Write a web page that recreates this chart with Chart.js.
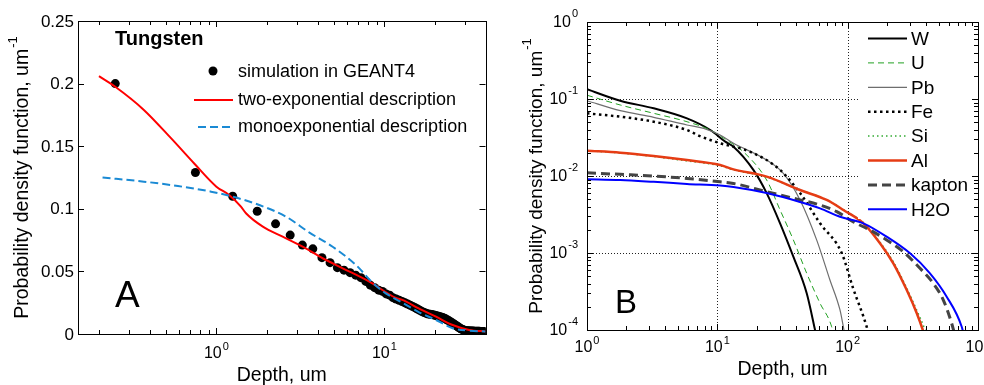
<!DOCTYPE html>
<html>
<head>
<meta charset="utf-8">
<script src="https://cdn.jsdelivr.net/npm/chart.js@4.4.1/dist/chart.umd.min.js"></script>
<style>
  html, body { margin: 0; padding: 0; background: #fff; overflow: hidden; }
  #wrap { position: relative; width: 984px; height: 385px; }
  canvas { position: absolute; top: 0; }
  #chartA { left: 0; }
  #chartB { left: 490px; }
</style>
</head>
<body>
<div id="wrap">
  <canvas id="chartA" width="490" height="385"></canvas>
  <canvas id="chartB" width="494" height="385"></canvas>
</div>
<script>
// ---------- Panel A: Tungsten ----------
const simDepth = [0.25, 0.75, 1.25, 1.75, 2.25, 2.75, 3.25, 3.75, 4.25, 4.75,
  5.25, 5.75, 6.25, 6.75, 7.25, 7.75, 8.25, 8.75, 9.25, 9.75,
  10.25, 10.75, 11.25, 11.75, 12.25, 12.75, 13.25, 13.75, 14.25, 14.75,
  15.25, 15.75, 16.25, 16.75, 17.25, 17.75, 18.25, 18.75, 19.25, 19.75,
  20.25, 20.75, 21.25, 21.75, 22.25, 22.75, 23.25, 23.75, 24.25, 24.75,
  25.25, 25.75, 26.25, 26.75, 27.25, 27.75, 28.25, 28.75, 29.25, 29.75,
  30.25, 30.75, 31.25, 31.75, 32.25, 32.75, 33.25, 33.75, 34.25, 34.75,
  35.25, 35.75, 36.25, 36.75, 37.25, 37.75, 38.25, 38.75, 39.25, 39.75];
const simPdf = [0.200, 0.129, 0.110, 0.098, 0.088, 0.079, 0.071, 0.068, 0.061, 0.057,
  0.053, 0.051, 0.049, 0.047, 0.045, 0.042, 0.039, 0.037, 0.035, 0.034,
  0.032, 0.031, 0.029, 0.028, 0.027, 0.026, 0.025, 0.024, 0.023, 0.022,
  0.021, 0.020, 0.019, 0.018, 0.0172, 0.0166, 0.0160, 0.0157, 0.0155, 0.0151,
  0.0148, 0.0144, 0.0140, 0.0136, 0.0132, 0.0126, 0.0120, 0.0112, 0.0105, 0.0098,
  0.0090, 0.0082, 0.0075, 0.0068, 0.0060, 0.0052, 0.0045, 0.0040, 0.0035, 0.0031,
  0.0028, 0.0026, 0.0025, 0.0025, 0.0024, 0.0024, 0.0023, 0.0023, 0.0022, 0.0022,
  0.0022, 0.0021, 0.0021, 0.0021, 0.0020, 0.0020, 0.0020, 0.0019, 0.0019, 0.0019];

const twoExpDepth = [0.2, 0.25, 0.37, 0.54, 0.74, 1.0, 1.19, 1.4, 1.5, 1.89, 2.48, 3.26, 4.29, 5.65, 8.14, 11.7, 12.8, 16, 20.3, 25.5, 32, 40];
const twoExpPdf = [0.206, 0.1975, 0.179, 0.156, 0.136, 0.1177, 0.111, 0.1017, 0.0964, 0.0857, 0.0777, 0.0697, 0.0605, 0.0525, 0.0418, 0.0288, 0.0272, 0.0205, 0.0138, 0.0072, 0.0032, 0.002];

const monoDepth = [0.21, 0.37, 0.59, 0.93, 1.25, 1.8, 2.6, 3.58, 4.92, 6.79, 8.5, 10.2, 12.8, 16, 20.3, 25.5, 32, 40];
const monoPdf = [0.125, 0.1217, 0.1182, 0.1137, 0.1097, 0.103, 0.0937, 0.081, 0.0697, 0.055, 0.041, 0.0325, 0.025, 0.0175, 0.0112, 0.0046, 0.0027, 0.002];

const leftYTickValues = [0, 0.05, 0.1, 0.15, 0.2, 0.25];
const leftYTickLabels = ['0', '0.05', '0.1', '0.15', '0.2', '0.25'];
const leftXDecades = [0, 1];

// ---------- Panel B: materials ----------
const wDepth = [1, 1.8, 3.25, 5.85, 8.83, 11.5, 13.3, 18.9, 23.9, 30.3, 38.3, 48.5, 56.2, 60];
const wPdf = [0.134, 0.095, 0.0757, 0.0561, 0.0396, 0.0279, 0.024, 0.012, 0.006, 0.00243, 0.000895, 0.0003, 0.0001, 0.00006];

const uDepth = [1, 1.8, 3.25, 5.85, 8.83, 11.5, 15.8, 23.9, 30.3, 38.3, 48.5, 61.4, 75.4, 80];
const uPdf = [0.112, 0.0836, 0.0652, 0.0507, 0.0396, 0.030, 0.0207, 0.00887, 0.00362, 0.00148, 0.000545, 0.000222, 0.00011, 0.00007];

const pbDepth = [1, 1.8, 3.25, 5.85, 7.86, 10.5, 13.3, 23.9, 32.1, 43.1, 57.8, 73.1, 87.3, 93.7, 98];
const pbPdf = [0.095, 0.0705, 0.0578, 0.046, 0.0416, 0.034, 0.0266, 0.0161, 0.0108, 0.00488, 0.00148, 0.000446, 0.000182, 0.0001, 0.00007];

const feDepth = [1, 1.8, 3.25, 5.85, 7.36, 10.5, 17.8, 30.3, 43.1, 61.4, 90, 110, 140, 150];
const fePdf = [0.0652, 0.0589, 0.0507, 0.0396, 0.033, 0.0266, 0.0207, 0.012, 0.006, 0.00243, 0.001, 0.00035, 0.00011, 0.00007];

const alDepth = [1, 1.8, 3.25, 5.85, 10.5, 13.3, 23.9, 43.1, 69, 92.7, 132, 177, 224, 284, 339, 377, 400];
const alPdf = [0.0213, 0.0201, 0.0182, 0.0161, 0.0139, 0.0122, 0.0098, 0.00658, 0.00488, 0.00362, 0.00243, 0.00134, 0.000734, 0.00033, 0.000165, 0.0001, 0.00007];

const siDepth = [1, 1.8, 3.25, 5.85, 10.5, 13.3, 23.9, 43.1, 69, 92.7, 132, 177, 224, 284, 339, 393, 410];
const siPdf = [0.0213, 0.0199, 0.0179, 0.0157, 0.0136, 0.012, 0.0097, 0.0066, 0.0049, 0.00365, 0.00248, 0.00138, 0.00077, 0.00035, 0.00018, 0.0001, 0.00008];

const kaptonDepth = [1, 1.8, 3.25, 5.85, 10.5, 13.3, 23.9, 43.1, 61.4, 82.4, 110, 148, 199, 267, 359, 454, 542, 628, 700];
const kaptonPdf = [0.011, 0.0105, 0.01, 0.0093, 0.0084, 0.008, 0.00625, 0.0049, 0.0042, 0.00344, 0.00255, 0.00199, 0.00148, 0.00104, 0.000632, 0.000404, 0.000245, 0.000122, 0.00006];

const h2oDepth = [1, 1.8, 3.25, 5.85, 10.5, 13.3, 23.9, 43.1, 61.4, 87.3, 132, 199, 301, 428, 575, 750, 800];
const h2oPdf = [0.0091, 0.00887, 0.0084, 0.0079, 0.0075, 0.0072, 0.006, 0.0046, 0.0038, 0.00296, 0.00243, 0.00163, 0.00099, 0.000545, 0.000271, 0.00011, 0.00007];

const rightXDecades = [0, 1, 2, 3];
const rightYDecades = [-4, -3, -2, -1, 0];
const rightGridX = [10, 100];
const rightGridY = [0.1, 0.01, 0.001];

const FONT = '"Liberation Sans", Arial, sans-serif';

function toPoints(xs, ys) {
  return xs.map((x, i) => ({ x: x, y: ys[i] }));
}

function logMinor(min, max) {
  const out = [];
  for (let e = Math.floor(Math.log10(min)); e <= Math.ceil(Math.log10(max)); e++) {
    for (let m = 2; m <= 9; m++) {
      const v = m * Math.pow(10, e);
      if (v >= min * 0.999 && v <= max * 1.001) out.push(v);
    }
  }
  return out;
}

function crisp(v) { return Math.round(v) + 0.5; }

// "10" with a raised exponent
function drawPow(ctx, exp, x, y, align, rise) {
  ctx.font = '16px ' + FONT;
  const wb = ctx.measureText('10').width;
  ctx.font = '11px ' + FONT;
  const ws = ctx.measureText(exp).width;
  const total = wb + 1 + ws;
  const x0 = align === 'right' ? x - total : x - total / 2;
  ctx.textAlign = 'left';
  ctx.textBaseline = 'middle';
  ctx.font = '16px ' + FONT;
  ctx.fillText('10', x0, y);
  ctx.font = '11px ' + FONT;
  ctx.fillText(exp, x0 + wb + 1, y - rise);
}

function drawYTitle(ctx, x, yc, size) {
  const main = 'Probability density function, um';
  const sup = '-1';
  ctx.save();
  ctx.translate(x, yc);
  ctx.rotate(-Math.PI / 2);
  ctx.font = size + 'px ' + FONT;
  const wm = ctx.measureText(main).width;
  ctx.font = '13px ' + FONT;
  const ws = ctx.measureText(sup).width;
  const start = -(wm + 1 + ws) / 2;
  ctx.textAlign = 'left';
  ctx.textBaseline = 'middle';
  ctx.font = size + 'px ' + FONT;
  ctx.fillText(main, start, 0);
  ctx.font = '13px ' + FONT;
  ctx.fillText(sup, start + wm + 1, -10);
  ctx.restore();
}

function drawBoxAndTicks(ctx, area, xScale, yScale, xMajor, xMinor, yMajor, yMinor) {
  const l = area.left, r = area.right, t = area.top, b = area.bottom;
  ctx.save();
  ctx.strokeStyle = '#000';
  ctx.lineWidth = 1;
  ctx.setLineDash([]);
  ctx.beginPath();
  xMajor.forEach(v => {
    const px = crisp(xScale.getPixelForValue(v));
    ctx.moveTo(px, b); ctx.lineTo(px, b - 6);
    ctx.moveTo(px, t); ctx.lineTo(px, t + 6);
  });
  xMinor.forEach(v => {
    const px = crisp(xScale.getPixelForValue(v));
    ctx.moveTo(px, b); ctx.lineTo(px, b - 4);
    ctx.moveTo(px, t); ctx.lineTo(px, t + 4);
  });
  yMajor.forEach(v => {
    const py = crisp(yScale.getPixelForValue(v));
    ctx.moveTo(l, py); ctx.lineTo(l + 6, py);
    ctx.moveTo(r, py); ctx.lineTo(r - 6, py);
  });
  yMinor.forEach(v => {
    const py = crisp(yScale.getPixelForValue(v));
    ctx.moveTo(l, py); ctx.lineTo(l + 4, py);
    ctx.moveTo(r, py); ctx.lineTo(r - 4, py);
  });
  ctx.stroke();
  ctx.strokeRect(crisp(l), crisp(t), Math.round(r) - Math.round(l), Math.round(b) - Math.round(t));
  ctx.restore();
}

// ---------- Panel A ----------
const axesA = {
  id: 'axesA',
  afterDatasetsDraw(chart) {
    const ctx = chart.ctx;
    const area = chart.chartArea;
    const xs = chart.scales.x, ys = chart.scales.y;
    const xMajor = leftXDecades.map(e => Math.pow(10, e));
    drawBoxAndTicks(ctx, area, xs, ys, xMajor, logMinor(xs.min, xs.max), leftYTickValues, []);

    ctx.save();
    ctx.fillStyle = '#000';
    // y tick labels
    ctx.font = '17px ' + FONT;
    ctx.textAlign = 'right';
    ctx.textBaseline = 'middle';
    leftYTickValues.forEach((v, i) => {
      ctx.fillText(leftYTickLabels[i], area.left - 4, ys.getPixelForValue(v) + 1);
    });
    // x tick labels
    leftXDecades.forEach(e => {
      drawPow(ctx, String(e), xs.getPixelForValue(Math.pow(10, e)), 354, 'center', 7);
    });
    // axis titles
    ctx.font = '19.5px ' + FONT;
    ctx.textAlign = 'center';
    ctx.textBaseline = 'alphabetic';
    ctx.fillText('Depth, um', (area.left + area.right) / 2, 381);
    drawYTitle(ctx, 23, (area.top + area.bottom) / 2, 19.5);

    // annotations
    ctx.font = 'bold 20px ' + FONT;
    ctx.textAlign = 'left';
    ctx.textBaseline = 'middle';
    ctx.fillText('Tungsten', 115, 39);
    ctx.font = '37px ' + FONT;
    ctx.textBaseline = 'alphabetic';
    ctx.fillText('A', 115, 307);

    // legend
    ctx.font = '18px ' + FONT;
    ctx.textBaseline = 'middle';
    ctx.beginPath();
    ctx.arc(213, 71, 4.5, 0, Math.PI * 2);
    ctx.fill();
    ctx.fillText('simulation in GEANT4', 238, 72);
    ctx.lineWidth = 2;
    ctx.strokeStyle = '#ff0000';
    ctx.beginPath(); ctx.moveTo(194, 100); ctx.lineTo(233, 100); ctx.stroke();
    ctx.fillText('two-exponential description', 238, 100);
    ctx.strokeStyle = '#1a8ad4';
    ctx.setLineDash([8, 4]);
    ctx.beginPath(); ctx.moveTo(198, 127); ctx.lineTo(233, 127); ctx.stroke();
    ctx.setLineDash([]);
    ctx.fillText('monoexponential description', 238, 127);
    ctx.restore();
  }
};

new Chart(document.getElementById('chartA'), {
  type: 'scatter',
  data: {
    datasets: [
      {
        label: 'monoexponential description',
        data: toPoints(monoDepth, monoPdf),
        showLine: true,
        borderColor: '#1a8ad4',
        borderWidth: 2,
        borderDash: [8, 4],
        pointRadius: 0,
        cubicInterpolationMode: 'monotone',
        order: 0
      },
      {
        label: 'two-exponential description',
        data: toPoints(twoExpDepth, twoExpPdf),
        showLine: true,
        borderColor: '#ff0000',
        borderWidth: 2,
        pointRadius: 0,
        cubicInterpolationMode: 'monotone',
        order: 1
      },
      {
        label: 'simulation in GEANT4',
        data: toPoints(simDepth, simPdf),
        showLine: false,
        pointRadius: 4.5,
        pointBackgroundColor: '#000',
        pointBorderWidth: 0,
        order: 2
      }
    ]
  },
  options: {
    responsive: false,
    animation: false,
    devicePixelRatio: 1,
    events: [],
    layout: { padding: { left: 78, top: 21, right: 3, bottom: 51 } },
    plugins: { legend: { display: false }, tooltip: { enabled: false } },
    scales: {
      x: { type: 'logarithmic', min: 0.15, max: 40, display: false },
      y: { type: 'linear', min: 0, max: 0.25, display: false }
    }
  },
  plugins: [axesA]
});

// ---------- Panel B ----------
const seriesB = [
  { label: 'W', xs: wDepth, ys: wPdf, color: '#000000', width: 2, dash: [] },
  { label: 'U', xs: uDepth, ys: uPdf, color: '#22a022', width: 1, dash: [6, 4] },
  { label: 'Pb', xs: pbDepth, ys: pbPdf, color: '#6e6e6e', width: 1.2, dash: [] },
  { label: 'Fe', xs: feDepth, ys: fePdf, color: '#000000', width: 2.5, dash: [2.5, 3.5] },
  { label: 'Si', xs: siDepth, ys: siPdf, color: '#33aa33', width: 1.5, dash: [1.5, 3] },
  { label: 'Al', xs: alDepth, ys: alPdf, color: '#e63c14', width: 2.5, dash: [] },
  { label: 'kapton', xs: kaptonDepth, ys: kaptonPdf, color: '#444444', width: 3, dash: [9, 5] },
  { label: 'H2O', xs: h2oDepth, ys: h2oPdf, color: '#0000ff', width: 2, dash: [] }
];

const axesB = {
  id: 'axesB',
  beforeDatasetsDraw(chart) {
    const ctx = chart.ctx;
    const area = chart.chartArea;
    const xs = chart.scales.x, ys = chart.scales.y;
    ctx.save();
    ctx.strokeStyle = '#222';
    ctx.lineWidth = 1;
    ctx.setLineDash([1, 2]);
    ctx.beginPath();
    rightGridX.forEach(v => {
      const px = crisp(xs.getPixelForValue(v));
      ctx.moveTo(px, area.top); ctx.lineTo(px, area.bottom);
    });
    rightGridY.forEach(v => {
      const py = crisp(ys.getPixelForValue(v));
      ctx.moveTo(area.left, py); ctx.lineTo(area.right, py);
    });
    ctx.stroke();
    ctx.restore();
  },
  afterDatasetsDraw(chart) {
    const ctx = chart.ctx;
    const area = chart.chartArea;
    const xs = chart.scales.x, ys = chart.scales.y;

    // legend box (white, no border)
    ctx.save();
    ctx.fillStyle = '#fff';
    ctx.fillRect(368, area.top + 1, area.right - 368, 196);
    ctx.restore();

    drawBoxAndTicks(ctx, area, xs, ys,
      rightXDecades.map(e => Math.pow(10, e)), logMinor(xs.min, xs.max),
      rightYDecades.map(e => Math.pow(10, e)), logMinor(ys.min, ys.max));

    ctx.save();
    ctx.fillStyle = '#000';
    rightYDecades.forEach(e => {
      drawPow(ctx, String(e), area.left - 9, ys.getPixelForValue(Math.pow(10, e)) + 1, 'right', 9);
    });
    rightXDecades.forEach(e => {
      drawPow(ctx, String(e), xs.getPixelForValue(Math.pow(10, e)), 348, 'center', 7);
    });
    ctx.font = '19.5px ' + FONT;
    ctx.textAlign = 'center';
    ctx.textBaseline = 'alphabetic';
    ctx.fillText('Depth, um', (area.left + area.right) / 2, 375);
    drawYTitle(ctx, 47, (area.top + area.bottom) / 2, 19);

    ctx.font = '33px ' + FONT;
    ctx.textAlign = 'left';
    ctx.fillText('B', 125, 313);

    // legend entries
    ctx.font = '19px ' + FONT;
    ctx.textBaseline = 'middle';
    seriesB.forEach((s, i) => {
      const y = 38.5 + i * 24.4;
      ctx.strokeStyle = s.color;
      ctx.lineWidth = s.width;
      ctx.setLineDash(s.dash);
      ctx.beginPath(); ctx.moveTo(378, y); ctx.lineTo(417, y); ctx.stroke();
      ctx.setLineDash([]);
      ctx.fillText(s.label, 421, y + 1);
    });
    ctx.restore();
  }
};

new Chart(document.getElementById('chartB'), {
  type: 'scatter',
  data: {
    datasets: seriesB.map((s, i) => ({
      label: s.label,
      data: toPoints(s.xs, s.ys),
      showLine: true,
      borderColor: s.color,
      borderWidth: s.width,
      borderDash: s.dash,
      pointRadius: 0,
      cubicInterpolationMode: 'monotone',
      order: seriesB.length - i
    }))
  },
  options: {
    responsive: false,
    animation: false,
    devicePixelRatio: 1,
    events: [],
    layout: { padding: { left: 97, top: 22, right: 6, bottom: 55 } },
    plugins: { legend: { display: false }, tooltip: { enabled: false } },
    scales: {
      x: { type: 'logarithmic', min: 1, max: 1000, display: false },
      y: { type: 'logarithmic', min: 0.0001, max: 1, display: false }
    }
  },
  plugins: [axesB]
});
</script>
</body>
</html>
